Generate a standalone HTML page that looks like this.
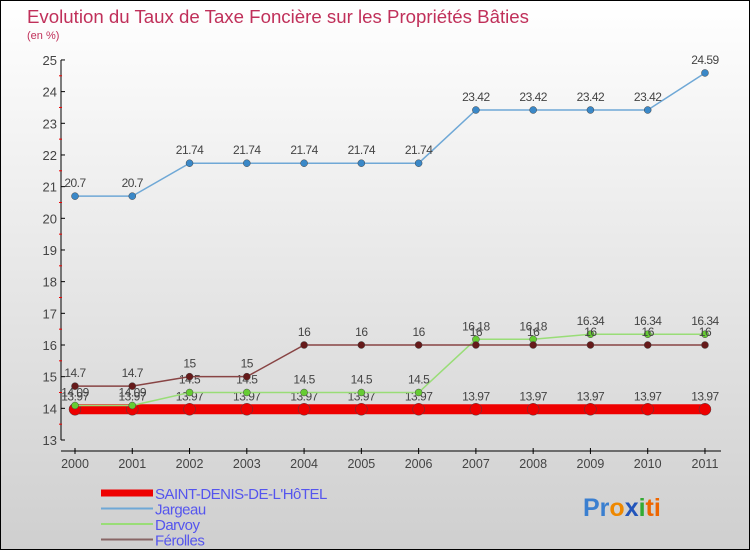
<!DOCTYPE html>
<html><head><meta charset="utf-8"><style>
body{margin:0}
#c{width:748px;height:548px;border:1px solid #000;background:linear-gradient(#ffffff,#cfcfcf);position:relative;overflow:hidden;font-family:"Liberation Sans",sans-serif}
</style></head><body>
<div id="c">
<svg id="s" width="748" height="548"></svg>
</div>
<script>
const years=["2000","2001","2002","2003","2004","2005","2006","2007","2008","2009","2010","2011"];
const yTicks=[13,14,15,16,17,18,19,20,21,22,23,24,25];
const stdenis=[13.97,13.97,13.97,13.97,13.97,13.97,13.97,13.97,13.97,13.97,13.97,13.97];
const jargeau=[20.7,20.7,21.74,21.74,21.74,21.74,21.74,23.42,23.42,23.42,23.42,24.59];
const darvoy=[14.09,14.09,14.5,14.5,14.5,14.5,14.5,16.18,16.18,16.34,16.34,16.34];
const ferolles=[14.7,14.7,15,15,16,16,16,16,16,16,16,16];
const NS="http://www.w3.org/2000/svg",s=document.getElementById('s');
const X=i=>74+i*57.27, Y=v=>439-(v-13)*31.67;
function el(t,a,p){const e=document.createElementNS(NS,t);for(const k in a)e.setAttribute(k,a[k]);(p||s).appendChild(e);return e;}
function tx(x,y,str,o,p){const e=el('text',Object.assign({x:x,y:y},o||{}),p);e.textContent=str;return e;}
let t=tx(26,22,"Evolution du Taux de Taxe Foncière sur les Propriétés Bâties",{fill:"#c0305a","font-size":18.5,"textLength":502,"lengthAdjust":"spacingAndGlyphs"});

t=tx(26,38,"(en %)",{fill:"#c0305a","font-size":11});

let ax=el('g',{});
el('line',{x1:60,y1:Y(25),x2:60,y2:Y(13),stroke:"#000"},ax);
yTicks.forEach(v=>{el('line',{x1:60,y1:Y(v),x2:64,y2:Y(v),stroke:"#000"},ax);
 if(v<25)el('line',{x1:58,y1:Y(v+0.5),x2:61,y2:Y(v+0.5),stroke:"#e00"},ax);
 tx(56,Y(v)+5,String(v),{fill:"#444","font-size":13,"text-anchor":"end"},ax);});
let xa=el('g',{});
el('line',{x1:60,y1:450,x2:720,y2:450,stroke:"#000"},xa);
years.forEach((y,i)=>{el('line',{x1:X(i),y1:447,x2:X(i),y2:453,stroke:"#000"},xa);tx(X(i),467,y,{fill:"#444","font-size":12.5,"text-anchor":"middle"},xa);});
function series(name,vals,col,w,r,dot){
 const g=el('g',{});
 el('polyline',{points:vals.map((v,i)=>X(i)+","+Y(v)).join(" "),fill:"none",stroke:col,"stroke-width":w},g);
 vals.forEach((v,i)=>{const c=el('circle',{cx:X(i),cy:Y(v),r:r,fill:dot,stroke:"#444","stroke-width":0.5},g);
  
  tx(X(i),Y(v)-9,String(v),{fill:"#444","font-size":12,"text-anchor":"middle","letter-spacing":"-0.5"},g);});
}
series('series-saint-denis',stdenis,"#ee0000",10,6,"#ee0000");
series('series-jargeau',jargeau,"#6fa8d6",1.5,3.5,"#3a88c8");
series('series-darvoy',darvoy,"#99dd77",1.5,3.5,"#66cc33");
series('series-ferolles',ferolles,"#884444",1.5,3.5,"#661a1a");
const lg=el('g',{});
[["SAINT-DENIS-DE-L'HôTEL","#ee0000",7],["Jargeau","#6fa8d6",2],["Darvoy","#99dd77",2],["Férolles","#886666",2]].forEach((e,i)=>{
 const y=492+i*15.5;el('line',{x1:100,y1:y,x2:152,y2:y,stroke:e[1],"stroke-width":e[2]},lg);
 const t=tx(154,y+6,e[0],{fill:"#5555ee","font-size":15,"letter-spacing":"-0.5"},lg);
 });
const lo=el('text',{x:582,y:515,"font-size":25,"font-weight":"bold"});
[["Pr","#3a7fd0"],["o","#ee8800"],["x","#2255bb"],["i","#33aa33"],["ti","#ee6600"]].forEach(p=>{const ts=el('tspan',{fill:p[1]},lo);ts.textContent=p[0];});
</script>
</body></html>
